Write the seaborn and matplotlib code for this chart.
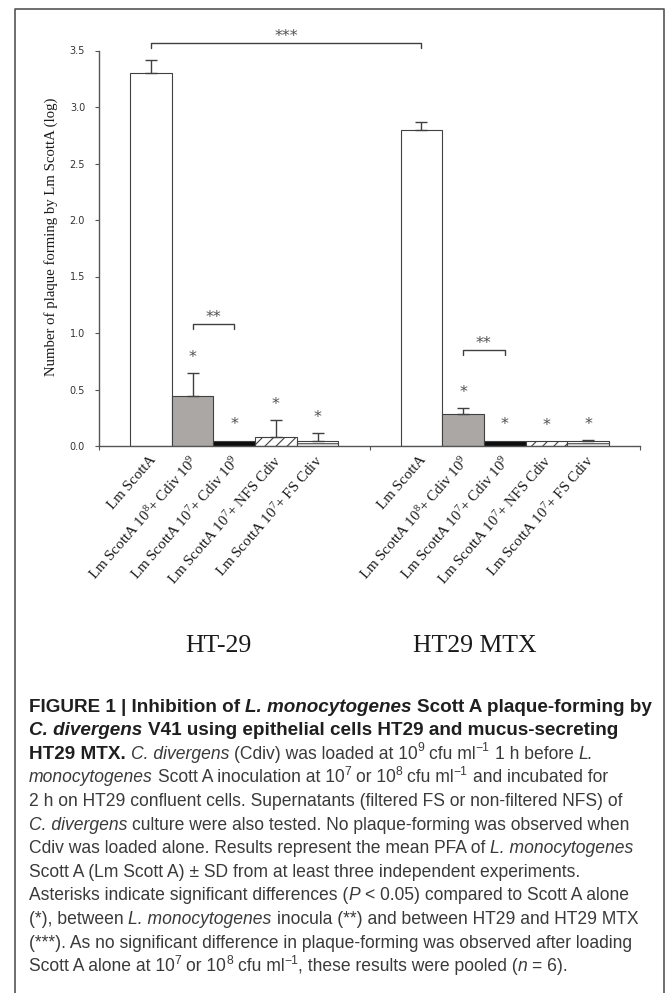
import matplotlib
matplotlib.use("Agg")
import matplotlib.pyplot as plt
import numpy as np
import pandas as pd
import seaborn as sns
from matplotlib.font_manager import FontProperties
from matplotlib.lines import Line2D
from matplotlib.transforms import offset_copy

W, H = 670, 993

# ---- data -------------------------------------------------------------
cell_lines = ["HT-29", "HT29 MTX"]
treatments = [
    "Lm ScottA",
    "Lm ScottA 10$^8$+ Cdiv 10$^9$",
    "Lm ScottA 10$^7$+ Cdiv 10$^9$",
    "Lm ScottA 10$^7$+ NFS Cdiv",
    "Lm ScottA 10$^7$+ FS Cdiv",
]
ht29_log_pfu = [3.30, 0.445, 0.047, 0.08, 0.04]
ht29_sd = [0.12, 0.20, 0.0, 0.15, 0.075]
mtx_log_pfu = [2.80, 0.28, 0.047, 0.045, 0.045]
mtx_sd = [0.07, 0.055, 0.0, 0.0, 0.005]
vs_scott_alone = [False, True, True, True, True]
y_ticks = [0.0, 0.5, 1.0, 1.5, 2.0, 2.5, 3.0, 3.5]

# ---- style ------------------------------------------------------------
sns.set_style("white")
plt.rcParams.update({
    "font.family": ["Liberation Serif", "DejaVu Serif"],
    "mathtext.fontset": "custom",
    "mathtext.rm": "Liberation Serif",
    "mathtext.it": "Liberation Serif:italic",
    "mathtext.bf": "Liberation Serif:bold",
    "mathtext.default": "rm",
    "hatch.color": "#3c3c3c",
    "hatch.linewidth": 0.8,
})

INK = "#404040"
fig = plt.figure(figsize=(W / 100, H / 100), dpi=100)
ax = fig.add_axes([99 / W, 1 - 446 / H, 541 / W, 395.5 / H])

df = pd.DataFrame({
    "cell": np.repeat(cell_lines, len(treatments)),
    "treatment": treatments * 2,
    "log_pfu": ht29_log_pfu + mtx_log_pfu,
    "sd": ht29_sd + mtx_sd,
    "star": vs_scott_alone * 2,
})

fills = dict(zip(treatments, ["white", "#aaa7a5", "#0d0d0d", "white", "white"]))
sns.barplot(data=df, x="cell", y="log_pfu", hue="treatment", order=cell_lines,
            hue_order=treatments, palette=fills, saturation=1, width=0.77,
            errorbar=None, edgecolor=INK, linewidth=0.8, legend=False, ax=ax)

bars = sorted(ax.patches, key=lambda p: p.get_x())
for bar, t in zip(bars, df["treatment"]):
    if t == treatments[3]:
        bar.set_hatch("///")
    elif t == treatments[4]:
        bar.set_hatch("----")

cx = np.array([b.get_x() + b.get_width() / 2 for b in bars])
tops = np.array([b.get_height() for b in bars])
sd = df["sd"].to_numpy()

# upper-only SD whiskers
m = sd > 0
ax.errorbar(cx[m], tops[m], yerr=[np.zeros(m.sum()), sd[m]], fmt="none",
            ecolor=INK, elinewidth=1.0, capsize=4.2, capthick=1.0, zorder=3)

STAR = dict(family="DejaVu Sans", fontsize=11.5, color="#505050")

# significance vs Scott A alone
for x, top, s, flag in zip(cx, tops, sd, df["star"]):
    if flag:
        ax.text(x, top + s + 0.10, "*", ha="center", va="baseline", **STAR)


def bracket(i, j, y, label, drop=0.045):
    ax.plot([cx[i], cx[i], cx[j], cx[j]], [y - drop, y, y, y - drop],
            color=INK, lw=1.0, clip_on=False)
    ax.text((cx[i] + cx[j]) / 2, y + 0.015, label, ha="center", va="baseline",
            clip_on=False, **STAR)


bracket(0, 5, 3.57, "***")
bracket(1, 2, 1.08, "**")
bracket(6, 7, 0.85, "**")

# axes
ax.set_xlim(-0.5, 1.5)
ax.set_ylim(0, 3.5)
ax.set_yticks(y_ticks)
ax.set_yticklabels([f"{v:.1f}" for v in y_ticks], family="DejaVu Sans",
                   fontsize=7, color="#333333")
ax.set_xticks([-0.5, 0.5, 1.5])
ax.set_xticklabels([])
ax.set_xlabel("")
ax.set_ylabel("")
ax.tick_params(axis="both", direction="out", length=3, width=0.8, color="#555555")
ax.tick_params(axis="y", pad=7, left=True)
ax.tick_params(axis="x", bottom=True)
sns.despine(ax=ax)
for sp in ("left", "bottom"):
    ax.spines[sp].set_color("#555555")
    ax.spines[sp].set_linewidth(1.0)

# rotated category labels under each bar
lab_tr = offset_copy(ax.transData, fig=fig, x=3, y=-12, units="dots")
for x, lab in zip(cx, df["treatment"]):
    ax.text(x, 0, lab, rotation=49, rotation_mode="anchor", ha="right",
            va="center", fontsize=10.8, color="#1a1a1a", transform=lab_tr,
            clip_on=False)

fig.text(51 / W, 1 - 237 / H, "Number of plaque forming by Lm ScottA (log)",
         rotation=90, ha="center", va="center", fontsize=10.6, color="#1a1a1a")
for label, xc in zip(cell_lines, [218, 475]):
    fig.text(xc / W, 1 - 652 / H, label, ha="center", va="baseline",
             fontsize=18.5, color="#1a1a1a")

# panel frame
frame = dict(color="#555555", lw=1.2, transform=fig.transFigure)
fig.add_artist(Line2D([15 / W, 15 / W, 664 / W, 664 / W],
                      [0, 1 - 9 / H, 1 - 9 / H, 0], **frame))

# ---- caption ------------------------------------------------------------
CAP_FONT = "Liberation Sans"
caption = [
    [("FIGURE 1 | Inhibition of ", "b"), ("L. monocytogenes", "bi"),
     (" Scott A plaque-forming by", "b")],
    [("C. divergens", "bi"), (" V41 using epithelial cells HT29 and mucus-secreting", "b")],
    [("HT29 MTX.", "b"), (" C. divergens", "i"), (" (Cdiv) was loaded at 10", "r"),
     ("9", "s"), (" cfu ml", "r"), ("\u22121", "s"), (" 1 h before ", "r"), ("L.", "i")],
    [("monocytogenes", "i"), (" Scott A inoculation at 10", "r"), ("7", "s"),
     (" or 10", "r"), ("8", "s"), (" cfu ml", "r"), ("\u22121", "s"),
     (" and incubated for", "r")],
    [("2 h on HT29 confluent cells. Supernatants (filtered FS or non-filtered NFS) of", "r")],
    [("C. divergens", "i"), (" culture were also tested. No plaque-forming was observed when", "r")],
    [("Cdiv was loaded alone. Results represent the mean PFA of ", "r"),
     ("L. monocytogenes", "i")],
    [("Scott A (Lm Scott A) \u00b1 SD from at least three independent experiments.", "r")],
    [("Asterisks indicate significant differences (", "r"), ("P", "i"),
     (" < 0.05) compared to Scott A alone", "r")],
    [("(*), between ", "r"), ("L. monocytogenes", "i"),
     (" inocula (**) and between HT29 and HT29 MTX", "r")],
    [("(***). As no significant difference in plaque-forming was observed after loading", "r")],
    [("Scott A alone at 10", "r"), ("7", "s"), (" or 10", "r"), ("8", "s"),
     (" cfu ml", "r"), ("\u22121", "s"), (", these results were pooled (", "r"),
     ("n", "i"), (" = 6).", "r")],
]

renderer = fig.canvas.get_renderer()
sizes = {"bold": 10.0, "plain": 10.0}


def props(style):
    size = sizes["bold"] if "b" in style else sizes["plain"]
    fp = FontProperties(family=CAP_FONT, size=size)
    if "b" in style:
        fp.set_weight("bold")
    if "i" in style:
        fp.set_style("italic")
    if style == "s":
        fp.set_size(size * 0.7)
    return fp


def adv(s, fp):
    w1 = renderer.get_text_width_height_descent("|" + s + "|", fp, ismath=False)[0]
    w0 = renderer.get_text_width_height_descent("||", fp, ismath=False)[0]
    return w1 - w0


def line_width(runs):
    return sum(adv(t, props(st)) for t, st in runs)


# the heading runs and the body text each fill their measured line widths
sizes["bold"] = 10 * 623 / line_width(caption[0])
sizes["plain"] = 10 * 608 / line_width(caption[10])

x0, base0, lead = 29, 711.5, 23.6
for k, runs in enumerate(caption):
    x = x0
    yb = base0 + k * lead
    for text, st in runs:
        fp = props(st)
        core = text.lstrip(" ")
        x += adv(text[: len(text) - len(core)], fp) if core != text else 0
        rise = 0.42 * sizes["plain"] * 100 / 72 if st == "s" else 0
        col = "#1f1f1f" if "b" in st else "#3a3a3a"
        fig.text(x / W, 1 - (yb - rise) / H, core, fontproperties=fp,
                 ha="left", va="baseline", color=col)
        x += adv(core, fp)

fig.savefig("out.png", dpi=100)
